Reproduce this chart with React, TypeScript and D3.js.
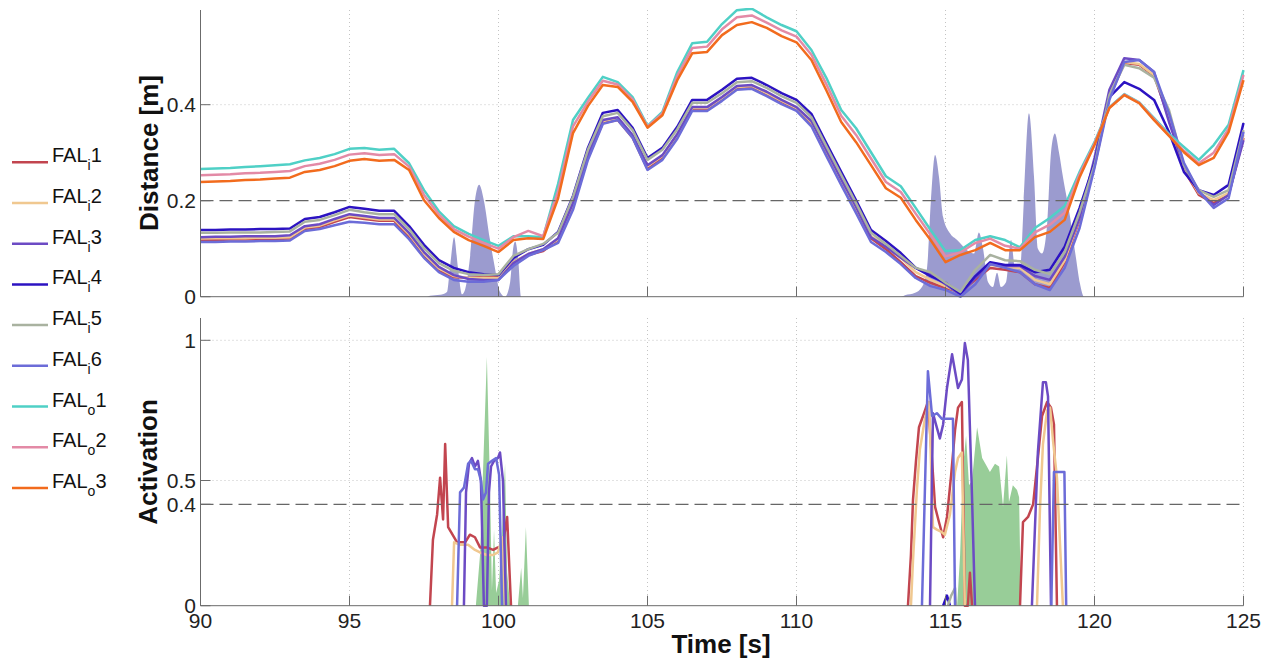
import React from 'react';
import * as d3 from 'd3';

// ---------- DATA ----------
const timeTop = [90, 90.5, 91, 91.5, 92, 92.5, 93, 93.5, 94, 94.5, 95, 95.5, 96, 96.5, 97, 97.5, 98, 98.5, 99, 99.5, 100, 100.5, 101, 101.5, 102, 102.5, 103, 103.5, 104, 104.5, 105, 105.5, 106, 106.5, 107, 107.5, 108, 108.5, 109, 109.5, 110, 110.5, 111, 111.5, 112, 112.5, 113, 113.5, 114, 114.5, 115, 115.5, 116, 116.5, 117, 117.5, 118, 118.5, 119, 119.5, 120, 120.5, 121, 121.5, 122, 122.5, 123, 123.5, 124, 124.5, 125];

const distFALi1 = [0.118, 0.118, 0.119, 0.119, 0.120, 0.120, 0.121, 0.141, 0.145, 0.156, 0.166, 0.162, 0.158, 0.158, 0.124, 0.083, 0.054, 0.041, 0.039, 0.041, 0.041, 0.072, 0.087, 0.095, 0.118, 0.191, 0.289, 0.362, 0.368, 0.331, 0.266, 0.289, 0.335, 0.391, 0.391, 0.412, 0.435, 0.437, 0.422, 0.406, 0.391, 0.362, 0.301, 0.241, 0.183, 0.122, 0.099, 0.072, 0.043, 0.029, 0.018, 0.010, 0.035, 0.060, 0.056, 0.051, 0.026, 0.018, 0.072, 0.160, 0.272, 0.416, 0.487, 0.483, 0.460, 0.372, 0.264, 0.212, 0.195, 0.212, 0.331];
const distFALi2 = [0.121, 0.122, 0.122, 0.122, 0.123, 0.123, 0.124, 0.144, 0.148, 0.159, 0.169, 0.165, 0.161, 0.161, 0.130, 0.090, 0.059, 0.043, 0.039, 0.039, 0.039, 0.072, 0.089, 0.099, 0.120, 0.193, 0.293, 0.366, 0.372, 0.335, 0.272, 0.293, 0.337, 0.393, 0.393, 0.414, 0.437, 0.439, 0.424, 0.408, 0.393, 0.364, 0.304, 0.243, 0.185, 0.126, 0.106, 0.081, 0.051, 0.035, 0.022, 0.008, 0.041, 0.066, 0.062, 0.060, 0.035, 0.026, 0.076, 0.164, 0.274, 0.418, 0.489, 0.485, 0.462, 0.378, 0.268, 0.216, 0.201, 0.216, 0.337];
const distFALi3 = [0.124, 0.125, 0.125, 0.126, 0.126, 0.126, 0.128, 0.147, 0.151, 0.162, 0.172, 0.168, 0.164, 0.164, 0.133, 0.093, 0.062, 0.045, 0.037, 0.035, 0.035, 0.070, 0.089, 0.099, 0.122, 0.195, 0.295, 0.368, 0.374, 0.337, 0.274, 0.295, 0.339, 0.395, 0.395, 0.416, 0.439, 0.441, 0.427, 0.410, 0.395, 0.366, 0.306, 0.245, 0.187, 0.124, 0.104, 0.081, 0.060, 0.047, 0.026, 0.004, 0.039, 0.068, 0.064, 0.064, 0.043, 0.035, 0.083, 0.164, 0.289, 0.431, 0.497, 0.493, 0.468, 0.364, 0.274, 0.218, 0.191, 0.212, 0.326];
const distFALi4 = [0.139, 0.139, 0.140, 0.140, 0.141, 0.141, 0.142, 0.162, 0.166, 0.176, 0.187, 0.183, 0.179, 0.179, 0.147, 0.108, 0.076, 0.060, 0.051, 0.047, 0.045, 0.081, 0.099, 0.108, 0.135, 0.210, 0.310, 0.383, 0.389, 0.352, 0.289, 0.310, 0.354, 0.410, 0.410, 0.431, 0.454, 0.456, 0.441, 0.424, 0.410, 0.381, 0.320, 0.260, 0.201, 0.139, 0.116, 0.091, 0.060, 0.043, 0.029, 0.006, 0.043, 0.072, 0.066, 0.066, 0.051, 0.056, 0.104, 0.185, 0.279, 0.416, 0.447, 0.433, 0.410, 0.343, 0.260, 0.222, 0.212, 0.233, 0.362];
const distFALi5 = [0.133, 0.133, 0.134, 0.134, 0.134, 0.135, 0.136, 0.156, 0.160, 0.170, 0.181, 0.176, 0.172, 0.172, 0.141, 0.101, 0.070, 0.054, 0.047, 0.045, 0.047, 0.085, 0.099, 0.110, 0.133, 0.208, 0.306, 0.376, 0.383, 0.347, 0.285, 0.306, 0.349, 0.404, 0.404, 0.424, 0.447, 0.449, 0.435, 0.418, 0.404, 0.374, 0.314, 0.254, 0.195, 0.133, 0.110, 0.085, 0.060, 0.051, 0.029, 0.010, 0.056, 0.087, 0.076, 0.074, 0.056, 0.047, 0.093, 0.176, 0.274, 0.420, 0.483, 0.476, 0.456, 0.389, 0.274, 0.222, 0.208, 0.222, 0.347];
const distFALi6 = [0.114, 0.114, 0.115, 0.115, 0.116, 0.116, 0.117, 0.137, 0.141, 0.149, 0.156, 0.154, 0.151, 0.151, 0.120, 0.081, 0.051, 0.035, 0.031, 0.031, 0.035, 0.064, 0.085, 0.097, 0.112, 0.181, 0.285, 0.360, 0.368, 0.331, 0.264, 0.285, 0.329, 0.387, 0.387, 0.408, 0.431, 0.433, 0.418, 0.401, 0.387, 0.355, 0.293, 0.233, 0.174, 0.114, 0.093, 0.068, 0.039, 0.022, 0.014, 0.000, 0.026, 0.068, 0.060, 0.051, 0.026, 0.014, 0.060, 0.143, 0.268, 0.410, 0.489, 0.493, 0.468, 0.382, 0.279, 0.220, 0.185, 0.205, 0.343];
const distFALo1 = [0.266, 0.267, 0.268, 0.270, 0.272, 0.274, 0.276, 0.284, 0.289, 0.297, 0.308, 0.310, 0.306, 0.308, 0.278, 0.222, 0.178, 0.147, 0.131, 0.118, 0.106, 0.126, 0.126, 0.124, 0.235, 0.368, 0.414, 0.458, 0.447, 0.416, 0.356, 0.385, 0.468, 0.528, 0.531, 0.568, 0.597, 0.600, 0.582, 0.566, 0.553, 0.514, 0.456, 0.389, 0.351, 0.301, 0.251, 0.230, 0.185, 0.139, 0.095, 0.097, 0.118, 0.126, 0.118, 0.103, 0.143, 0.164, 0.189, 0.260, 0.322, 0.395, 0.422, 0.405, 0.372, 0.339, 0.312, 0.285, 0.316, 0.358, 0.472];
const distFALo2 = [0.253, 0.254, 0.255, 0.257, 0.258, 0.260, 0.262, 0.272, 0.277, 0.285, 0.296, 0.299, 0.295, 0.297, 0.271, 0.212, 0.171, 0.141, 0.125, 0.112, 0.100, 0.124, 0.137, 0.126, 0.220, 0.355, 0.406, 0.450, 0.442, 0.411, 0.354, 0.382, 0.460, 0.518, 0.521, 0.557, 0.582, 0.586, 0.571, 0.555, 0.542, 0.504, 0.443, 0.377, 0.337, 0.288, 0.239, 0.218, 0.173, 0.129, 0.084, 0.092, 0.112, 0.121, 0.106, 0.100, 0.134, 0.150, 0.175, 0.255, 0.319, 0.394, 0.421, 0.404, 0.370, 0.336, 0.304, 0.278, 0.300, 0.350, 0.462];
const distFALo3 = [0.239, 0.240, 0.241, 0.243, 0.244, 0.246, 0.248, 0.260, 0.264, 0.272, 0.283, 0.287, 0.283, 0.285, 0.264, 0.201, 0.164, 0.135, 0.118, 0.106, 0.093, 0.118, 0.122, 0.120, 0.205, 0.341, 0.397, 0.441, 0.437, 0.406, 0.352, 0.378, 0.451, 0.507, 0.510, 0.545, 0.566, 0.572, 0.560, 0.543, 0.530, 0.493, 0.430, 0.364, 0.322, 0.274, 0.226, 0.206, 0.160, 0.118, 0.072, 0.087, 0.097, 0.112, 0.097, 0.097, 0.124, 0.135, 0.160, 0.249, 0.316, 0.393, 0.420, 0.403, 0.368, 0.335, 0.301, 0.274, 0.289, 0.343, 0.451];

// shaded distance area (top panel)
const shadeTime = [90, 97.6, 97.70, 98.04, 98.27, 98.37, 98.51, 98.64, 98.78, 98.88, 99.04, 99.21, 99.35, 99.51, 99.71, 99.88, 100.05, 100.22, 100.39, 100.49, 100.56, 100.66, 100.76, 113.5, 113.64, 113.98, 114.21, 114.38, 114.51, 114.65, 114.78, 114.92, 115.15, 115.39, 115.72, 115.96, 116.12, 116.26, 116.43, 116.59, 116.73, 116.86, 117.03, 117.20, 117.33, 117.50, 117.63, 117.80, 117.97, 118.10, 118.24, 118.41, 118.54, 118.67, 118.81, 118.94, 119.18, 119.38, 119.51, 119.65, 125];
const shadeValue = [0, 0, 0.002, 0.004, 0.01, 0.06, 0.124, 0.06, 0.005, 0.015, 0.08, 0.2, 0.233, 0.2, 0.12, 0.06, 0.01, 0, 0.03, 0.1, 0.115, 0.08, 0, 0, 0.003, 0.008, 0.02, 0.06, 0.2, 0.295, 0.25, 0.166, 0.132, 0.118, 0.097, 0.09, 0.134, 0.1, 0.03, 0.02, 0.05, 0.02, 0.03, 0.118, 0.06, 0.06, 0.2, 0.382, 0.25, 0.1, 0.09, 0.15, 0.3, 0.34, 0.3, 0.25, 0.166, 0.08, 0.028, 0, 0];

// activation (bottom panel); null separates bursts
type P = [number, number] | null;
const actFALi1: P[] = [[97.70, 0], [97.80, 0.26], [97.94, 0.36], [98.04, 0.51], [98.14, 0.34], [98.21, 0.63], [98.31, 0.31], [98.61, 0.25], [98.88, 0.25], [99.04, 0.28], [99.21, 0.27], [99.38, 0.23], [99.61, 0.23], [99.82, 0.22], [99.98, 0.23], [100.12, 0.22], [100.29, 0.35], [100.42, 0], null,
  [113.74, 0], [113.84, 0.2], [113.91, 0.42], [114.01, 0.57], [114.11, 0.69], [114.28, 0.74], [114.41, 0.78], [114.55, 0.57], [114.65, 0.39], [114.78, 0.33], [114.92, 0.27], [115.05, 0.35], [115.19, 0.52], [115.32, 0.68], [115.42, 0.76], [115.55, 0.78], [115.65, 0], [115.75, 0], [115.82, 0.13], [115.89, 0], null,
  [117.50, 0], [117.60, 0.33], [117.77, 0.35], [117.94, 0.40], [118.10, 0.58], [118.24, 0.73], [118.41, 0.78], [118.54, 0.76], [118.64, 0.70], [118.74, 0]];
const actFALi2: P[] = [[98.44, 0], [98.51, 0.25], [98.71, 0.24], [98.98, 0.24], [99.21, 0.22], [99.38, 0.21], [99.61, 0.20], [99.82, 0.20], [99.98, 0.21], [100.12, 0.27], [100.22, 0], null,
  [113.84, 0], [113.91, 0.18], [114.04, 0.46], [114.14, 0.61], [114.31, 0.72], [114.45, 0.78], [114.58, 0.31], [114.71, 0.30], [114.88, 0.29], [114.98, 0.28], [115.15, 0.36], [115.32, 0.53], [115.42, 0.58], [115.55, 0.60], [115.65, 0], null,
  [118.07, 0], [118.17, 0.38], [118.27, 0.63], [118.41, 0.75], [118.51, 0.76], [118.61, 0.64], [118.74, 0.51], [118.84, 0.25], [118.94, 0]];
const actFALi3: P[] = [[98.84, 0], [98.91, 0.45], [99.01, 0.56], [99.11, 0.58], [99.21, 0.55], [99.31, 0.57], [99.41, 0.50], [99.51, 0], [99.61, 0], [99.68, 0.45], [99.75, 0.55], [99.85, 0.57], [99.98, 0.58], [100.05, 0.60], [100.15, 0.50], [100.25, 0], null,
  [114.48, 0], [114.58, 0.74], [114.68, 0.70], [114.81, 0.65], [114.92, 0.70], [115.05, 0.83], [115.22, 0.95], [115.42, 0.83], [115.55, 0.86], [115.65, 0.99], [115.75, 0.93], [115.89, 0.43], [115.99, 0], null,
  [117.90, 0], [118.10, 0.6], [118.27, 0.85], [118.37, 0.85], [118.44, 0.80], [118.54, 0]];
const actFALi4: P[] = [[114.92, 0], [115.05, 0.04], [115.15, 0]];
const actFALi5: P[] = [[115.08, 0], [115.19, 0.04], [115.32, 0.07], [115.35, 0]];
const actFALi6: P[] = [[98.61, 0], [98.71, 0.45], [98.84, 0.47], [98.98, 0.56], [99.08, 0.57], [99.21, 0.54], [99.31, 0.54], [99.41, 0.50], [99.48, 0.42], [99.58, 0.45], [99.65, 0.56], [99.78, 0.57], [99.92, 0.58], [100.02, 0.52], [100.12, 0], null,
  [114.21, 0], [114.41, 0.89], [114.55, 0.73], [114.71, 0.74], [114.88, 0.72], [115.08, 0.72], [115.25, 0.72], [115.32, 0], null,
  [118.55, 0], [118.64, 0.53], [118.99, 0.53], [119.05, 0]];

const greenTime = [90, 99.24, 99.38, 99.48, 99.61, 99.71, 99.78, 99.85, 99.92, 100.02, 100.12, 100.22, 100.29, 100.39, 100.65, 100.76, 100.82, 100.92, 101.02, 115.39, 115.49, 115.59, 115.69, 115.79, 115.89, 116.06, 116.23, 116.39, 116.49, 116.66, 116.80, 116.93, 117.06, 117.13, 117.26, 117.40, 117.47, 117.53, 125];
const greenValue = [0, 0, 0.2, 0.53, 0.94, 0.5, 0.06, 0.30, 0.05, 0.1, 0.3, 0.56, 0.13, 0, 0, 0.15, 0.03, 0.31, 0, 0, 0.2, 0.55, 0.66, 0.48, 0.50, 0.69, 0.58, 0.55, 0.53, 0.56, 0.55, 0.39, 0.59, 0.41, 0.48, 0.46, 0.43, 0];

const xTicks = [90, 95, 100, 105, 110, 115, 120, 125];
const topYTicks = [0, 0.2, 0.4];
const botYTicks = [0, 0.4, 0.5, 1];
const topThreshold = 0.2;
const botThreshold = 0.4;

const series = [
  { sub: 'i', num: '1', color: '#c2454f', dist: distFALi1, act: actFALi1 },
  { sub: 'i', num: '2', color: '#f0c890', dist: distFALi2, act: actFALi2 },
  { sub: 'i', num: '3', color: '#6c4bc4', dist: distFALi3, act: actFALi3 },
  { sub: 'i', num: '4', color: '#2c13c2', dist: distFALi4, act: actFALi4 },
  { sub: 'i', num: '5', color: '#a9b2a0', dist: distFALi5, act: actFALi5 },
  { sub: 'i', num: '6', color: '#6c6cd8', dist: distFALi6, act: actFALi6 },
  { sub: 'o', num: '1', color: '#4fd0c6', dist: distFALo1, act: null },
  { sub: 'o', num: '2', color: '#e38aa6', dist: distFALo2, act: null },
  { sub: 'o', num: '3', color: '#f26b1d', dist: distFALo3, act: null },
];

// ---------- CHART ----------
const FONT = '"Liberation Sans", Arial, Helvetica, sans-serif';
const x = d3.scaleLinear().domain([90, 125]).range([200.5, 1243.5]);
const yTop = d3.scaleLinear().domain([0, 0.6]).range([296.7, 8.7]);
const yBot = d3.scaleLinear().domain([0, 0.4, 0.5, 1]).range([605.7, 504.3, 480.5, 340.3]);
const topY0 = 10, topY1 = 296.7, botY0 = 318, botY1 = 605.7;
const AX = '#6b6b6b';

export default function App() {
  const lineTop = d3.line<number>().x((_, i) => x(timeTop[i])).y((d) => yTop(d));
  const shade = d3.area<number>().x((_, i) => x(shadeTime[i])).y0(yTop(0)).y1((d) => yTop(d)).curve(d3.curveMonotoneX);
  const green = d3.area<number>().x((_, i) => x(greenTime[i])).y0(yBot(0)).y1((d) => yBot(d));
  const lineBot = d3.line<P>().defined((d) => d !== null).x((d) => x((d as [number, number])[0])).y((d) => yBot((d as [number, number])[1]));

  return (
    <svg width={1279} height={662} style={{ position: 'absolute', left: 0, top: 0, background: '#fff' }} fontFamily={FONT}>
      <defs>
        <clipPath id="clipTop"><rect x={200} y={8} width={1045} height={290} /></clipPath>
      </defs>

      {/* ---- top panel grid ---- */}
      {xTicks.filter((t) => t > 90).map((t) => (
        <line key={'gt' + t} x1={x(t)} x2={x(t)} y1={topY0} y2={topY1} stroke="#c4c4c4" strokeDasharray="1,3" />
      ))}
      <line x1={x(90)} x2={x(125)} y1={yTop(0.4)} y2={yTop(0.4)} stroke="#c4c4c4" strokeDasharray="1,3" />

      <g clipPath="url(#clipTop)">
        <path d={shade(shadeValue) || ''} fill="#9b9bcf" />
        {series.map((s, k) => (
          <path key={'d' + k} d={lineTop(s.dist) || ''} fill="none" stroke={s.color} strokeWidth={2.5} strokeLinejoin="round" />
        ))}
      </g>
      <line x1={x(90)} x2={x(125)} y1={yTop(topThreshold)} y2={yTop(topThreshold)} stroke="#666" strokeWidth={1.3} strokeDasharray="13,6" />

      {/* top axes */}
      <line x1={x(90)} x2={x(90)} y1={topY0} y2={topY1} stroke={AX} />
      <line x1={x(90)} x2={x(125)} y1={topY1} y2={topY1} stroke={AX} />
      {xTicks.map((t) => (
        <line key={'tt' + t} x1={x(t)} x2={x(t)} y1={topY1} y2={topY1 - 10} stroke={AX} />
      ))}
      {topYTicks.map((v) => (
        <g key={'ty' + v}>
          <line x1={x(90)} x2={x(90) + 10} y1={yTop(v)} y2={yTop(v)} stroke={AX} />
          <text x={196} y={yTop(v)} dy="0.36em" textAnchor="end" fontSize={21} fill="#222">{v}</text>
        </g>
      ))}
      <text transform={`translate(158,153) rotate(-90)`} textAnchor="middle" fontSize={26} fontWeight="bold" fill="#111">Distance [m]</text>

      {/* ---- bottom panel grid ---- */}
      {xTicks.filter((t) => t > 90).map((t) => (
        <line key={'gb' + t} x1={x(t)} x2={x(t)} y1={botY0} y2={botY1} stroke="#c4c4c4" strokeDasharray="1,3" />
      ))}
      {[0.5, 1].map((v) => (
        <line key={'gh' + v} x1={x(90)} x2={x(125)} y1={yBot(v)} y2={yBot(v)} stroke="#c4c4c4" strokeDasharray="1,3" />
      ))}
      <path d={green(greenValue) || ''} fill="#98cd98" />
      {series.filter((s) => s.act).map((s, k) => (
        <path key={'a' + k} d={lineBot(s.act as P[]) || ''} fill="none" stroke={s.color} strokeWidth={2.5} strokeLinejoin="round" />
      ))}
      <line x1={x(90)} x2={x(125)} y1={yBot(botThreshold)} y2={yBot(botThreshold)} stroke="#666" strokeWidth={1.3} strokeDasharray="13,6" />

      {/* bottom axes */}
      <line x1={x(90)} x2={x(90)} y1={botY0} y2={botY1} stroke={AX} />
      <line x1={x(90)} x2={x(125)} y1={botY1} y2={botY1} stroke={AX} />
      {xTicks.map((t) => (
        <g key={'bt' + t}>
          <line x1={x(t)} x2={x(t)} y1={botY1} y2={botY1 - 10} stroke={AX} />
          <text x={x(t)} y={628} textAnchor="middle" fontSize={21} fill="#222">{t}</text>
        </g>
      ))}
      {botYTicks.map((v) => (
        <g key={'by' + v}>
          <line x1={x(90)} x2={x(90) + 10} y1={yBot(v)} y2={yBot(v)} stroke={AX} />
          <text x={196} y={yBot(v)} dy="0.36em" textAnchor="end" fontSize={21} fill="#222">{v}</text>
        </g>
      ))}
      <text transform={`translate(157,462) rotate(-90)`} textAnchor="middle" fontSize={26} fontWeight="bold" fill="#111">Activation</text>
      <text x={721} y={653} textAnchor="middle" fontSize={26} fontWeight="bold" fill="#111">Time [s]</text>

      {/* ---- legend ---- */}
      {series.map((s, k) => {
        const ly = 162.3 + k * 40.7;
        return (
          <g key={'l' + k}>
            <line x1={12} x2={48} y1={ly} y2={ly} stroke={s.color} strokeWidth={2.5} />
            <text x={52} y={ly} fontSize={20} fill="#111">
              FAL<tspan fontSize={14} dy={8}>{s.sub}</tspan><tspan fontSize={20} dy={-8}>{s.num}</tspan>
            </text>
          </g>
        );
      })}
    </svg>
  );
}
